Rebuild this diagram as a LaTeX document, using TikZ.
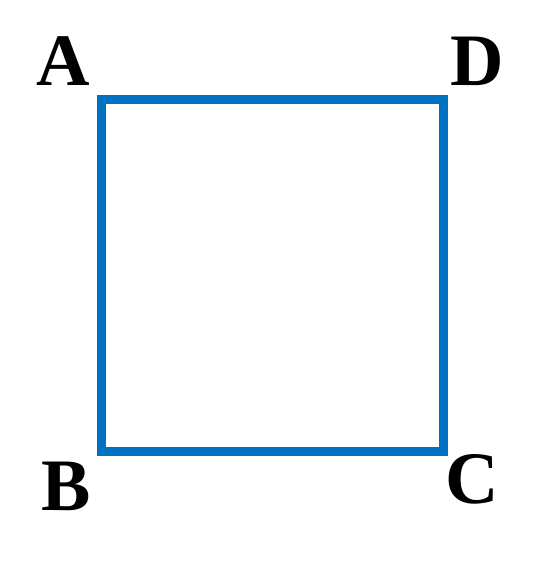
\documentclass[tikz,border=0pt]{standalone}
\usepackage{fontspec}
\setmainfont{Liberation Serif}
\definecolor{sqblue}{HTML}{0070C0}
\begin{document}
\begin{tikzpicture}[x=1pt,y=1pt,
  edge/.style={draw=sqblue,line width=9pt,line join=miter},
  vlabel/.style={anchor=base,inner sep=0pt,font=\fontsize{74}{74}\selectfont\bfseries}]
\useasboundingbox (0,0) rectangle (544,566);
\coordinate (a) at (101,466.5);
\coordinate (b) at (101,114);
\coordinate (c) at (443,114);
\coordinate (d) at (443,466.5);
\draw[edge] (a) -- (b) -- (c) -- (d) -- cycle;
\node[vlabel] (la) at (63.5,480) {A};
\node[vlabel] (ld) at (477,480) {D};
\node[vlabel] (lb) at (66,55) {B};
\node[vlabel] (lc) at (472.5,63) {C};
\end{tikzpicture}
\end{document}
